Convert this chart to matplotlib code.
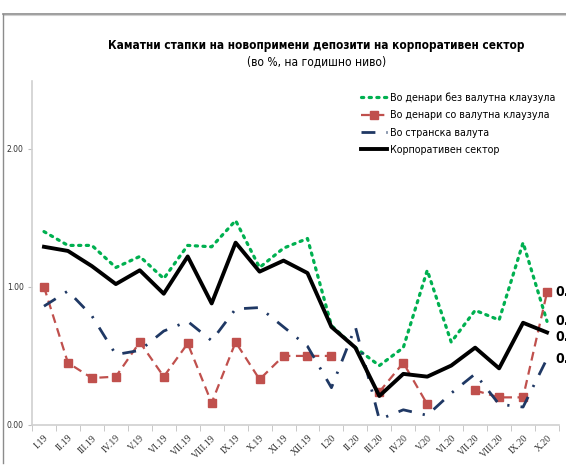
import numpy as np
import matplotlib
matplotlib.use("Agg")
import matplotlib.pyplot as plt
from matplotlib import font_manager as fm
from matplotlib.lines import Line2D

months = ["I.19", "II.19", "III.19", "IV.19", "V.19", "VI.19", "VII.19", "VIII.19",
          "IX.19", "X.19", "XI.19", "XII.19", "I.20", "II.20", "III.20", "IV.20",
          "V.20", "VI.20", "VII.20", "VIII.20", "IX.20", "X.20"]

# rates in %
den_bez = [1.40, 1.30, 1.30, 1.14, 1.22, 1.06, 1.30, 1.29, 1.48, 1.14, 1.28, 1.35,
           0.72, 0.56, 0.43, 0.56, 1.12, 0.60, 0.83, 0.76, 1.32, 0.75]
den_so = [1.00, 0.45, 0.34, 0.35, 0.60, 0.35, 0.59, 0.16, 0.60, 0.33, 0.50, 0.50,
          0.50, np.nan, 0.24, 0.45, 0.15, np.nan, 0.25, 0.20, 0.20, 0.96]
stranska = [0.86, 0.97, 0.79, 0.51, 0.54, 0.68, 0.75, 0.61, 0.84, 0.85, 0.71, 0.57,
            0.27, 0.71, 0.04, 0.11, 0.07, 0.23, 0.37, 0.15, 0.13, 0.48]
korporativen = [1.29, 1.26, 1.15, 1.02, 1.12, 0.95, 1.22, 0.88, 1.32, 1.11, 1.19, 1.10,
                0.71, 0.56, 0.21, 0.37, 0.35, 0.43, 0.56, 0.41, 0.74, 0.67]

labels = ["Во денари без валутна клаузула", "Во денари со валутна клаузула",
          "Во странска валута", "Корпоративен сектор"]

# pick a narrow font if there is one
avail = {f.name for f in fm.fontManager.ttflist}
dv_cond = [f for f in fm.fontManager.ttflist
           if f.name == 'DejaVu Sans' and 'ondensed' in f.fname]
if 'Liberation Sans Narrow' in avail:
    plt.rcParams['font.family'] = ['Liberation Sans Narrow', 'DejaVu Sans']
elif dv_cond:
    plt.rcParams['font.family'] = ['DejaVu Sans']
    plt.rcParams['font.stretch'] = 'condensed'
else:
    plt.rcParams['font.family'] = ['Roboto', 'DejaVu Sans']

W, H = 566, 471
fig = plt.figure(figsize=(W / 100, H / 100), dpi=100)
renderer = fig.canvas.get_renderer()


def fit(txt, width_px):
    w = txt.get_window_extent(renderer).width
    txt.set_fontsize(txt.get_fontsize() * width_px / w)
    return txt.get_fontsize()


ax = fig.add_axes([32 / W, 1 - 425 / H, 527 / W, 344 / H])

x = np.arange(len(months))
ax.plot(x, den_bez, color='#00B050', lw=2.3, linestyle=(0, (0.7, 1.7)),
        dash_capstyle='round', label=labels[0])
ax.plot(x, den_so, color='#C0504D', lw=1.6, linestyle=(0, (4, 2.5)),
        marker='s', markersize=5.5, label=labels[1])
ax.plot(x, stranska, color='#1F3864', lw=2.0, linestyle=(0, (5, 4, 0.8, 4)),
        label=labels[2])
ax.plot(x, korporativen, color='black', lw=2.8, label=labels[3])

# data labels on the last point (cut off at the right edge, as in the source)
for series, dy in [(den_so, 0), (den_bez, 0), (korporativen, -3), (stranska, 0)]:
    ax.annotate(f"{series[-1]:.2f}", (x[-1], series[-1]), xytext=(6, dy),
                textcoords='offset points', ha='left', va='center',
                fontsize=10, fontweight='bold', annotation_clip=False)

ax.set_xlim(-0.5, len(months) - 0.5)
ax.set_ylim(0, 2.49)
ax.set_yticks([0, 1, 2])
ax.set_yticklabels(["0.00", "1.00", "2.00"])
ax.set_xticks(x)
ax.set_xticklabels(months, rotation=45, ha='right', va='top',
                   rotation_mode='anchor', fontsize=7, color='#333333',
                   family=['Liberation Serif', 'DejaVu Serif'])
ax.set_xticks(np.arange(-0.5, len(months)), minor=True)
ax.tick_params(axis='x', which='major', length=0, pad=6)
ax.tick_params(axis='x', which='minor', length=4, color='#BFBFBF', direction='out')

probe = fig.text(0, 0, "2.00", fontsize=8)
ysize = fit(probe, 17)
probe.remove()
ax.tick_params(axis='y', length=3, color='#BFBFBF', labelsize=ysize,
               labelcolor='#333333', pad=3)

for s in ['top', 'right']:
    ax.spines[s].set_visible(False)
for s in ['left', 'bottom']:
    ax.spines[s].set_color('#D0D0D0')
    ax.spines[s].set_linewidth(1.2)

probe = fig.text(0, 0, labels[0], fontsize=9)
lsize = fit(probe, 166)
probe.remove()
leg = fig.legend(loc='upper left', bbox_to_anchor=(357 / W, 1 - 88 / H),
                 frameon=False, fontsize=lsize, handlelength=2.4,
                 handletextpad=0.3, labelspacing=0.7, borderaxespad=0)

t = fig.text(316 / W, 1 - 45 / H,
             "Каматни стапки на новопримени депозити на корпоративен сектор",
             ha='center', va='center', fontsize=10.5, fontweight='bold')
fit(t, 420)
st = fig.text(317 / W, 1 - 62 / H, "(во %, на годишно ниво)",
              ha='center', va='center', fontsize=9.5)
fit(st, 140)

# outer frame of the original chart object
fig.add_artist(Line2D([2.5 / W, 1.0], [1 - 13.5 / H, 1 - 13.5 / H],
                      transform=fig.transFigure, color='#8C8C8C', lw=1.2))
fig.add_artist(Line2D([2.5 / W, 1.0], [1 - 15 / H, 1 - 15 / H],
                      transform=fig.transFigure, color='#D0D0D0', lw=0.8))
fig.add_artist(Line2D([2.5 / W, 2.5 / W], [1 - 13.5 / H, 1 - 463 / H],
                      transform=fig.transFigure, color='#8C8C8C', lw=1.0))

fig.savefig("out.png", dpi=100)
